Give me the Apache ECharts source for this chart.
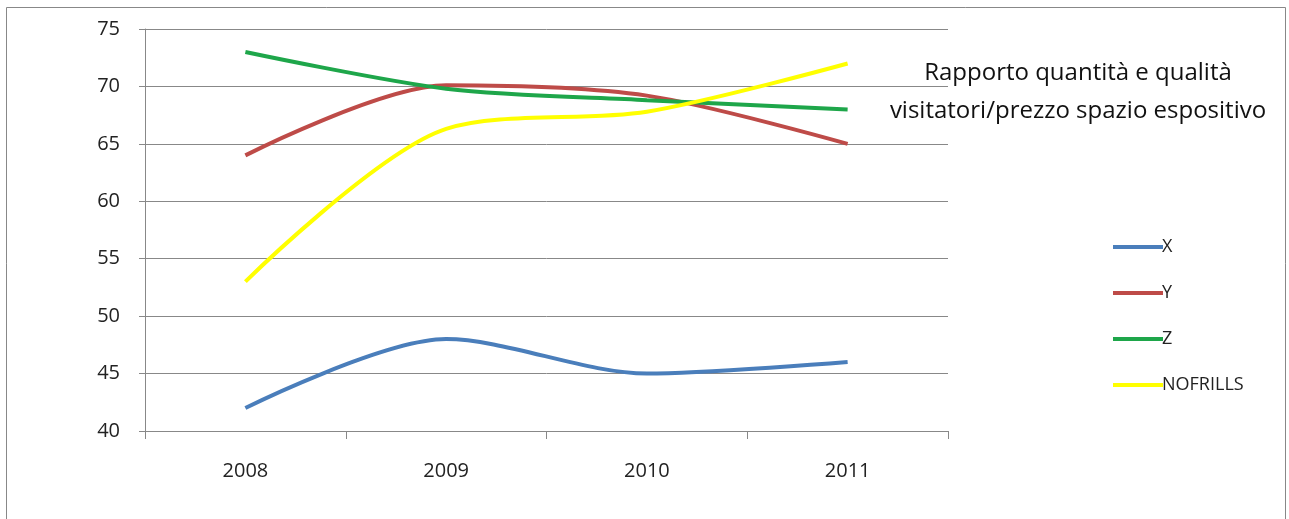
<!DOCTYPE html>
<html>
<head>
<meta charset="utf-8">
<script src="https://cdn.jsdelivr.net/npm/echarts@6/dist/echarts.min.js"></script>
<style>
  html, body { margin: 0; padding: 0; background: #fff; }
  #chart { width: 1289px; height: 519px; }
</style>
</head>
<body>
<div id="chart"></div>
<script>
const years = ['2008', '2009', '2010', '2011'];
const seriesX = [42, 48, 45, 46];
const seriesY = [64, 70.1, 69.2, 65];
const seriesZ = [73, 69.8, 68.8, 68];
const seriesNofrills = [53, 66.3, 67.8, 72];
const titleLines = ['Rapporto quantità e qualità', 'visitatori/prezzo spazio espositivo'];

const chart = echarts.init(document.getElementById('chart'));

function line(name, data, color) {
  return {
    name: name,
    type: 'line',
    data: data,
    smooth: 0.3,
    symbol: 'none',
    lineStyle: { color: color, width: 4 },
    itemStyle: { color: color }
  };
}

// title as two free text lines, centred right of the plot
const titleGraphics = titleLines.map(function (t, i) {
  return {
    type: 'text',
    x: 1078,
    y: 73 + i * 38,
    silent: true,
    style: {
      text: t,
      font: '24px "Open Sans"',
      fill: '#111',
      align: 'center',
      verticalAlign: 'middle'
    }
  };
});

chart.setOption({
  backgroundColor: '#fff',
  animation: false,
  textStyle: { fontFamily: 'Open Sans' },
  legend: {
    orient: 'vertical',
    left: 1108,
    top: 233,
    icon: 'rect',
    itemWidth: 50,
    itemHeight: 4,
    itemGap: 28,
    textStyle: { fontSize: 18, color: '#222', padding: [0, 0, 0, -6] },
    data: ['X', 'Y', 'Z', 'NOFRILLS']
  },
  grid: { left: 145, right: 341, top: 29, bottom: 88 },
  xAxis: {
    type: 'category',
    data: years,
    boundaryGap: true,
    axisLine: { lineStyle: { color: '#888', width: 1 } },
    axisTick: { show: true, length: 8, lineStyle: { color: '#888' } },
    axisLabel: { fontSize: 20, color: '#222', margin: 30 }
  },
  yAxis: {
    type: 'value',
    min: 40,
    max: 75,
    interval: 5,
    axisLine: { show: true, lineStyle: { color: '#888', width: 1 } },
    axisTick: { show: true, length: 6, lineStyle: { color: '#888' } },
    axisLabel: { fontSize: 20, color: '#222', margin: 25 },
    splitLine: { lineStyle: { color: '#888', width: 1 } }
  },
  graphic: [{
    type: 'rect',
    shape: { x: 6.5, y: 7.5, width: 1279, height: 530 },
    style: { fill: null, stroke: '#888', lineWidth: 1 },
    silent: true
  }].concat(titleGraphics),
  series: [
    line('X', seriesX, '#4a7ebb'),
    line('Y', seriesY, '#be4b48'),
    line('Z', seriesZ, '#1ea64a'),
    line('NOFRILLS', seriesNofrills, '#ffff00')
  ]
});
</script>
</body>
</html>
